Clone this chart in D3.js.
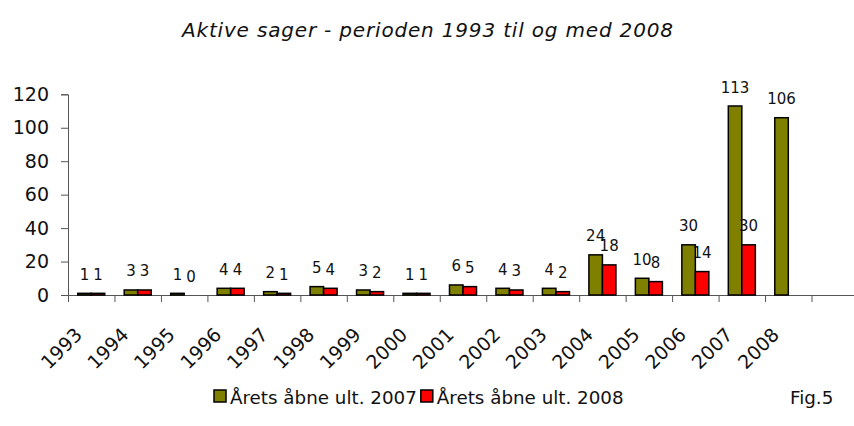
<!DOCTYPE html>
<html>
<head>
<meta charset="utf-8">
<script src="https://cdn.jsdelivr.net/npm/d3@7"></script>
<style>
  body { margin: 0; background: #fff; }
  text { font-family: Verdana, "DejaVu Sans", sans-serif; fill: #111; }
</style>
</head>
<body>
<script>
// data
const years = ["1993","1994","1995","1996","1997","1998","1999","2000","2001","2002","2003","2004","2005","2006","2007","2008",""];
const open2007 = [1,3,1,4,2,5,3,1,6,4,4,24,10,30,113,106];
const open2008 = [1,3,0,4,1,4,2,1,5,3,2,18,8,14,30,null];
const seriesNames = ["Årets åbne ult. 2007", "Årets åbne ult. 2008"];
const seriesColors = ["#808000", "#ff0000"];
const yTicks = [0,20,40,60,80,100,120];

width = 854;
height = 426;

const svg = d3.select('body')
            .append('svg')
            .attr('width', width)
            .attr('height', height)
            .attr('viewBox', [0,0,width,height]);

x = d3.scaleBand()
      .domain(years)
      .range([68, 858]);

xIdx = d3.scaleLinear()
      .domain([0, years.length])
      .range([68, 858]);

x1 = d3.scaleBand()
      .domain([0,1])
      .range([0, x.bandwidth()])
      .paddingOuter(0.72);

y = d3.scaleLinear()
      .domain([0, 120])
      .range([295, 94.3]);

// title
svg.append("text")
    .attr("x", 427.5)
    .attr("y", 37)
    .attr("text-anchor", "middle")
    .attr("font-style", "italic")
    .attr("font-size", 20)
    .attr("textLength", 491)
    .attr("lengthAdjust", "spacing")
    .text("Aktive sager - perioden 1993 til og med 2008");

// y axis
yAxis = svg.append("g")
    .attr("transform", "translate(68,0)")
    .call(d3.axisLeft(y).tickValues(yTicks).tickSize(7).tickPadding(12));
yAxis.selectAll("text").attr("font-size", 19).style("font-family", "Verdana, 'DejaVu Sans', sans-serif");

// x axis, ticks between categories
xAxis = svg.append("g")
    .attr("transform", "translate(0," + y(0) + ")")
    .call(d3.axisBottom(xIdx).tickValues(d3.range(0, years.length + 1)).tickSize(7).tickFormat(""));
svg.selectAll(".domain, .tick line").attr("stroke", "#555");

// rotated year labels
svg.selectAll(".year")
    .data(years.filter(d => d != ""))
    .enter()
    .append("text")
    .attr("class", "year")
    .attr("font-size", 19)
    .attr("text-anchor", "end")
    .attr("transform", d => "translate(" + (x(d) + x.bandwidth()/2 - 8) + "," + (y(0) + 41) + ") rotate(-45)")
    .text(d => d);

// bars
const series = [open2007, open2008];
series.forEach(function(vals, s) {
    const pts = vals.map((v, i) => ({year: years[i], v: v})).filter(d => d.v != null);

    svg.selectAll(".bar" + s)
        .data(pts)
        .enter()
        .append("rect")
        .attr("x", d => x(d.year) + x1(s))
        .attr("y", d => y(d.v))
        .attr("width", x1.bandwidth())
        .attr("height", d => y(0) - y(d.v))
        .attr("fill", seriesColors[s])
        .attr("stroke", "#000")
        .attr("stroke-width", 1.5);

    svg.selectAll(".lab" + s)
        .data(pts)
        .enter()
        .append("text")
        .attr("font-size", 15)
        .attr("text-anchor", "middle")
        .attr("x", d => x(d.year) + x1(s) + x1.bandwidth()/2)
        .attr("y", d => y(d.v) - 13.5)
        .text(d => d.v);
});

// legend
legend = svg.append("g");
let lx = 214;
seriesNames.forEach(function(name, s) {
    legend.append("rect")
        .attr("x", lx)
        .attr("y", 390)
        .attr("width", 12)
        .attr("height", 12)
        .attr("fill", seriesColors[s])
        .attr("stroke", "#000")
        .attr("stroke-width", 1.5);
    const t = legend.append("text")
        .attr("x", lx + 16)
        .attr("y", 404)
        .attr("font-size", 18.3)
        .text(name);
    lx = lx + 16 + t.node().getComputedTextLength() + 4;
});

svg.append("text")
    .attr("x", 790)
    .attr("y", 404)
    .attr("font-size", 18.3)
    .text("Fig.5");
</script>
</body>
</html>
